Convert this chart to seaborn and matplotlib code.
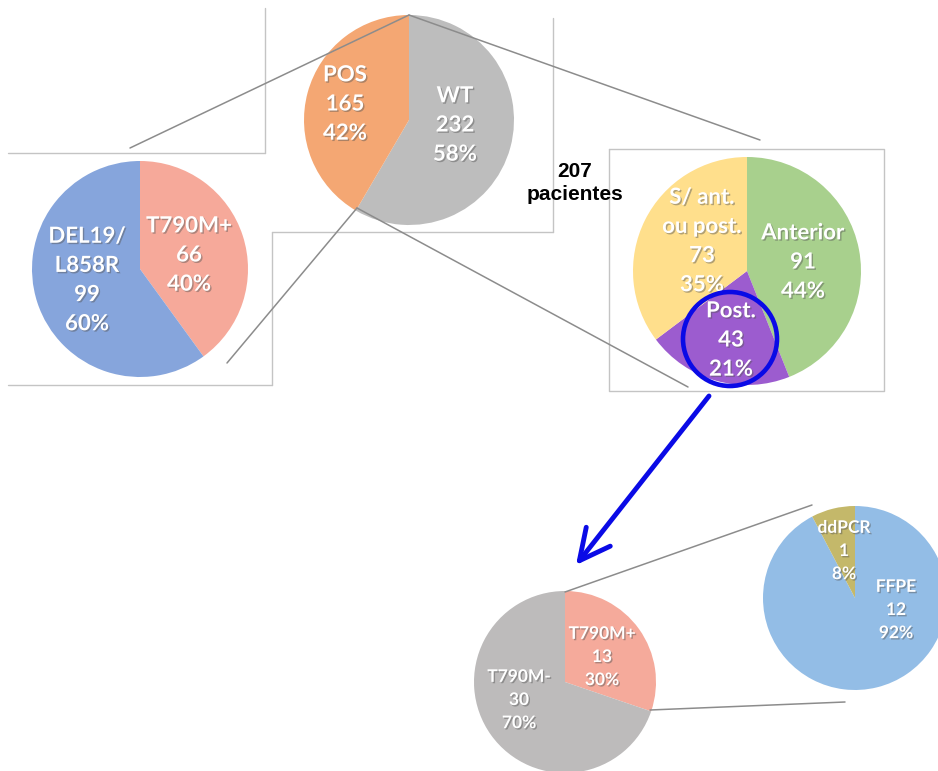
import matplotlib
matplotlib.use('Agg')
import matplotlib.pyplot as plt
import matplotlib.patheffects as pe
from matplotlib.patches import Circle
import seaborn as sns

# dados de cada pizza (ordem: sentido horário a partir do topo)
total_labels = ["WT", "POS"]
total_values = [232, 165]
total_colors = ["#BDBDBD", "#F4A773"]

pos_labels = ["T790M+", "DEL19/\nL858R"]
pos_values = [66, 99]
pos_colors = ["#F6A99A", "#86A5DC"]

local_labels = ["Anterior", "Post.", "S/ ant.\nou post."]
local_values = [91, 43, 73]
local_colors = ["#A8D08D", "#9C5CCF", "#FFDF8C"]

post_labels = ["T790M+", "T790M-"]
post_values = [13, 30]
post_colors = ["#F5AA9B", "#BDBBBB"]

amostra_labels = ["FFPE", "ddPCR"]
amostra_values = [12, 1]
amostra_colors = ["#93BDE6", "#C4B86A"]

n_pacientes = 207

W, H = 938, 771


def P(x, y):
    # coordenadas da imagem (y para baixo) -> coordenadas do eixo
    return (x, H - y)


sns.set_style("white")
fig = plt.figure(figsize=(W / 100, H / 100), dpi=100)
ax = fig.add_axes([0, 0, 1, 1])

line_kw = dict(color="#8C8C8C", lw=1.1, zorder=5)
box_kw = dict(color="#C4C4C4", lw=1.0, zorder=1)


def draw_pie(values, labels, colors, center, radius, label_pos, fs, ls):
    ax.pie(values, colors=colors, startangle=90, counterclock=False,
           center=P(*center), radius=radius, frame=True,
           wedgeprops=dict(linewidth=0, zorder=2))
    tot = sum(values)
    for v, lab, (lx, ly) in zip(values, labels, label_pos):
        txt = f"{lab}\n{v}\n{round(100 * v / tot)}%"
        ax.text(*P(lx, ly), txt, ha="center", va="center", color="white",
                fontsize=fs, fontweight="bold", family=["Lato", "DejaVu Sans"],
                linespacing=ls, zorder=6,
                path_effects=[pe.withSimplePatchShadow(offset=(1, -1), shadow_rgbFace="#555555", alpha=0.45)])


# caixas
ax.plot(*zip(P(265, 8), P(265, 153)), **box_kw)
ax.plot(*zip(P(8, 153), P(265, 153)), **box_kw)
ax.plot(*zip(P(553, 18), P(553, 232)), **box_kw)
ax.plot(*zip(P(272, 232), P(553, 232)), **box_kw)
ax.plot(*zip(P(272, 232), P(272, 385)), **box_kw)
ax.plot(*zip(P(8, 385), P(272, 385)), **box_kw)
ax.plot(*zip(P(609, 149), P(884, 149), P(884, 391), P(609, 391), P(609, 149)), **box_kw)

# pizzas
draw_pie(total_values, total_labels, total_colors, (409, 120), 105,
         [(455, 125), (345, 104)], 16, 1.48)
draw_pie(pos_values, pos_labels, pos_colors, (140, 269), 108,
         [(189, 255), (87, 280)], 16, 1.48)
draw_pie(local_values, local_labels, local_colors, (747, 271), 114,
         [(803, 262), (731, 340), (702, 241)], 16, 1.48)
draw_pie(post_values, post_labels, post_colors, (565, 682), 91,
         [(602, 657), (519, 700)], 12.5, 1.55)
draw_pie(amostra_values, amostra_labels, amostra_colors, (855, 598), 92,
         [(896, 610), (844, 551)], 12.5, 1.55)

# linhas de ligação
ax.plot(*zip(P(409, 15), P(130, 148)), **line_kw)
ax.plot(*zip(P(409, 15), P(760, 140)), **line_kw)
ax.plot(*zip(P(357, 208), P(227, 363)), **line_kw)
ax.plot(*zip(P(357, 208), P(688, 387)), **line_kw)
ax.plot(*zip(P(565, 592), P(812, 505)), **line_kw)
ax.plot(*zip(P(650, 710), P(845, 702)), **line_kw)

ax.text(*P(575, 183), f"{n_pacientes}\npacientes", ha="center", va="center",
        fontsize=15, fontweight="bold", family=["Liberation Sans", "DejaVu Sans"],
        color="black", linespacing=1.3, zorder=6)

# destaque em azul
ax.add_patch(Circle(P(730, 339), 47, fill=False, ec="#0A0AE6", lw=3.3, zorder=7))
ax.annotate("", xy=P(576, 565), xytext=P(709, 396),
            arrowprops=dict(arrowstyle="->,head_length=1.1,head_width=0.55",
                            color="#0A0AE6", lw=3.5, mutation_scale=20,
                            shrinkA=0, shrinkB=0), zorder=7)

ax.set_xlim(0, W)
ax.set_ylim(0, H)
ax.set_aspect("equal")
ax.axis("off")

fig.savefig("out.png", dpi=100)
